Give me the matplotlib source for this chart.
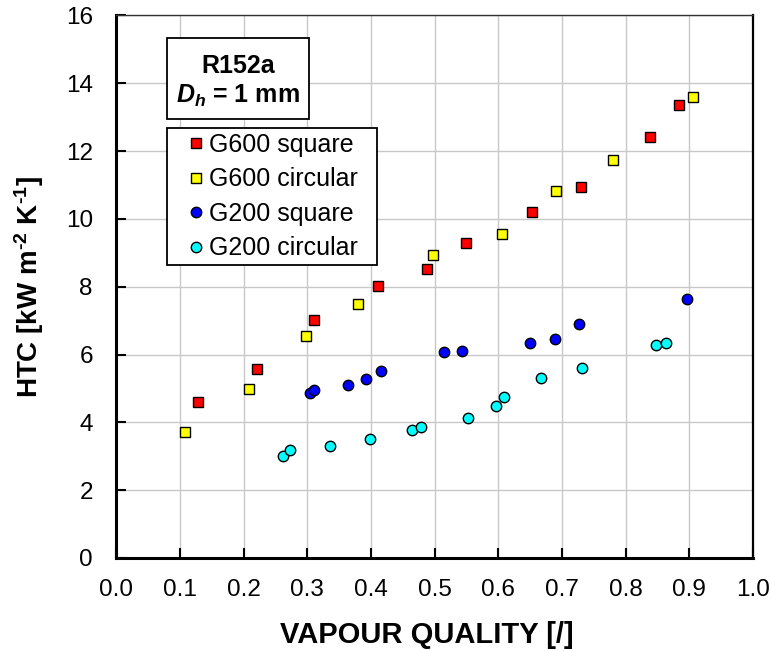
import matplotlib
matplotlib.use("Agg")
import matplotlib.pyplot as plt
from matplotlib.patches import Rectangle

plt.rcParams['mathtext.fontset'] = 'custom'
plt.rcParams['mathtext.rm'] = 'Liberation Sans:bold'
plt.rcParams['mathtext.it'] = 'Liberation Sans:bold:italic'
plt.rcParams['mathtext.bf'] = 'Liberation Sans:bold'

# HTC measurements vs vapour quality, R152a, Dh = 1 mm
g600_sq_x = [0.128, 0.221, 0.310, 0.411, 0.488, 0.549, 0.653, 0.729, 0.838, 0.883]
g600_sq_y = [4.59, 5.57, 7.02, 8.02, 8.51, 9.30, 10.21, 10.93, 12.43, 13.37]

g600_ci_x = [0.108, 0.208, 0.298, 0.379, 0.498, 0.606, 0.691, 0.780, 0.905]
g600_ci_y = [3.72, 4.98, 6.55, 7.48, 8.93, 9.55, 10.82, 11.75, 13.60]

g200_sq_x = [0.304, 0.311, 0.364, 0.392, 0.416, 0.514, 0.543, 0.650, 0.689, 0.727, 0.896]
g200_sq_y = [4.86, 4.95, 5.11, 5.27, 5.51, 6.07, 6.10, 6.35, 6.47, 6.89, 7.64]

g200_ci_x = [0.261, 0.273, 0.336, 0.399, 0.465, 0.479, 0.553, 0.596, 0.609, 0.667, 0.732,
             0.848, 0.863]
g200_ci_y = [3.01, 3.17, 3.31, 3.52, 3.76, 3.85, 4.13, 4.48, 4.75, 5.30, 5.61, 6.27, 6.35]

x_ticks = [0.0, 0.1, 0.2, 0.3, 0.4, 0.5, 0.6, 0.7, 0.8, 0.9, 1.0]
y_ticks = [0, 2, 4, 6, 8, 10, 12, 14, 16]

FONT = 'Liberation Sans'
HY = '\u2010'  # short hyphen for the unit exponents

fig = plt.figure(figsize=(7.71, 6.51), dpi=100)
ax = fig.add_axes([0.151, 0.143, 0.8257, 0.8332])

ax.set_xlim(0, 1.0)
ax.set_ylim(0, 16)
ax.set_xticks(x_ticks)
ax.set_yticks(y_ticks)
ax.set_xticklabels([f"{v:.1f}" for v in x_ticks], fontsize=17.5, family=FONT)
ax.set_yticklabels([str(v) for v in y_ticks], fontsize=17.5, family=FONT)
ax.grid(True, color='#c8c8c8', lw=1.0)
ax.set_axisbelow(True)
ax.tick_params(direction='in', length=7, width=1.5, top=False, right=False)
ax.tick_params(axis='x', pad=15.5)
ax.tick_params(axis='y', pad=17)

for side, lw in (('left', 2.2), ('bottom', 2.2), ('right', 1.6), ('top', 1.0)):
    ax.spines[side].set_linewidth(lw)
    ax.spines[side].set_color('black' if side != 'top' else '#333333')

mk = dict(linestyle='none', markeredgecolor='black', markeredgewidth=1.0,
          markersize=7.5, clip_on=False)
ax.plot(g600_sq_x, g600_sq_y, marker='s', color='#ff0000', label='G600 square', **mk)
ax.plot(g600_ci_x, g600_ci_y, marker='s', color='#ffff00', label='G600 circular', **mk)
ax.plot(g200_sq_x, g200_sq_y, marker='o', color='#0000ff', label='G200 square', **mk)
ax.plot(g200_ci_x, g200_ci_y, marker='o', color='#00ffff', label='G200 circular', **mk)

ax.set_xlabel('VAPOUR QUALITY [/]', fontsize=21, fontweight='bold', family=FONT,
              labelpad=14)
ax.xaxis.label.set_x(0.487)
ax.set_ylabel('HTC [kW m$^{' + HY + '2}$ K$^{' + HY + '1}$]', fontsize=20,
              fontweight='bold', family=FONT, labelpad=14)

leg = ax.legend(loc='upper left', bbox_to_anchor=(0.079, 0.533, 0.33, 0.26),
                mode='expand', borderaxespad=0,
                prop={'family': FONT, 'size': 18}, fancybox=False,
                edgecolor='black', framealpha=1, handlelength=1.95,
                handletextpad=-0.45, labelspacing=0.42, borderpad=0.2)
leg.get_frame().set_linewidth(1.3)

# info box
ax.add_patch(Rectangle((0.079, 0.810), 0.2235, 0.1486, transform=ax.transAxes,
                       facecolor='white', edgecolor='black', lw=1.3, zorder=5))
ax.text(0.1905, 0.906, 'R152a', transform=ax.transAxes, ha='center', va='center',
        fontsize=18, fontweight='bold', family=FONT, zorder=6)
ax.text(0.1905, 0.852, r'$D_h$ = 1 mm', transform=ax.transAxes, ha='center',
        va='center', fontsize=18, fontweight='bold', family=FONT, zorder=6)

fig.savefig('out.png', dpi=100)
